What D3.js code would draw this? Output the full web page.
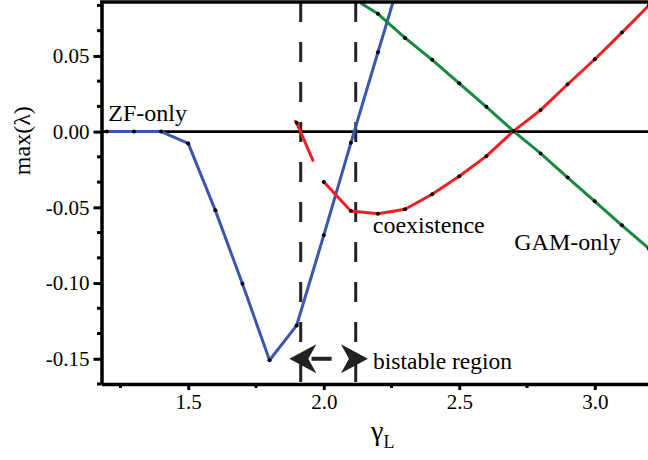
<!DOCTYPE html>
<html>
<head>
<meta charset="utf-8">
<script src="https://cdn.jsdelivr.net/npm/d3@7"></script>
<style>
  body { margin: 0; background: #fff; }
  text, tspan { font-family: "Liberation Serif", "Times New Roman", serif; }
</style>
</head>
<body>
<svg id="chart" width="648" height="460"></svg>
<script>
// gamma_L values and max(lambda) for each branch
var zfOnly = [[1.2, 0], [1.3, 0], [1.4, 0], [1.5, -0.0078], [1.6, -0.052], [1.7, -0.1005],
              [1.8, -0.151], [1.9, -0.128], [2.0, -0.0685], [2.1, -0.0074], [2.2, 0.0524], [2.3, 0.112]]
var coexA = [[1.895, 0.0068], [1.9, 0.0058], [1.96, -0.019]]
var coexB = [[2.0, -0.0332], [2.1, -0.0524], [2.2, -0.0542], [2.3, -0.0513], [2.4, -0.0414],
             [2.5, -0.0295], [2.6, -0.0162], [2.7, 0.0003], [2.8, 0.0142], [2.9, 0.0313],
             [3.0, 0.0478], [3.1, 0.0654], [3.2, 0.0835]]
var gamOnly = [[2.14, 0.0845], [2.2, 0.0778], [2.3, 0.0619], [2.4, 0.0474], [2.5, 0.0319],
               [2.6, 0.0164], [2.7, 0.0003], [2.8, -0.0144], [2.9, -0.0303], [3.0, -0.046],
               [3.1, -0.0619], [3.2, -0.0773]]
var bistable = [1.915, 2.118]
var xMajor = [1.5, 2.0, 2.5, 3.0]
var xMinor = [1.25, 1.75, 2.25, 2.75]
var yMajor = [-0.15, -0.10, -0.05, 0, 0.05]
var yMinor = d3.range(-10, 6).filter(k => k % 3 !== 0).map(k => k / 60)

var dims = { width: 648, height: 460, left: 101.5, right: 649, top: 2, bottom: 384 }
var serif = '"Liberation Serif", "Times New Roman", serif'

var svg = d3.select("#chart")

var xScale = d3.scaleLinear().domain([1.18, 3.2]).range([dims.left, dims.right])
var yScale = d3.scaleLinear().domain([-1 / 6, 0.0856]).range([dims.bottom, dims.top])

svg.append("clipPath").attr("id", "plotclip")
   .append("rect")
   .attr("x", dims.left).attr("y", dims.top)
   .attr("width", dims.width - dims.left).attr("height", dims.bottom - dims.top)

var plot = svg.append("g").attr("clip-path", "url(#plotclip)")

// zero line
plot.append("line")
    .attr("x1", dims.left).attr("x2", dims.width)
    .attr("y1", yScale(0)).attr("y2", yScale(0))
    .attr("stroke", "#000").attr("stroke-width", 2.6)

// bistable boundaries
plot.selectAll(".bistable")
    .data(bistable)
    .enter()
    .append("line")
    .attr("class", "bistable")
    .attr("x1", d => xScale(d)).attr("x2", d => xScale(d))
    .attr("y1", dims.top).attr("y2", dims.bottom)
    .attr("stroke", "#222").attr("stroke-width", 3)
    .attr("stroke-dasharray", "20,20")

var line = d3.line().x(d => xScale(d[0])).y(d => yScale(d[1]))

var series = [
    { data: zfOnly, color: "#3a57ad" },
    { data: coexA, color: "#ee2024" },
    { data: coexB, color: "#ee2024" },
    { data: gamOnly, color: "#168a3e" }
]

series.forEach(function(s) {
    plot.append("path")
        .datum(s.data)
        .attr("d", line)
        .attr("fill", "none")
        .attr("stroke", s.color)
        .attr("stroke-width", 3)
        .attr("stroke-linejoin", "round")
        .attr("stroke-linecap", "round")
})

var isGrid = d => Math.abs(d[0] * 10 - Math.round(d[0] * 10)) < 1e-6
series.forEach(function(s) {
    plot.append("g")
        .selectAll("circle")
        .data(s.data.filter(isGrid))
        .enter()
        .append("circle")
        .attr("cx", d => xScale(d[0]))
        .attr("cy", d => yScale(d[1]))
        .attr("r", 2)
        .attr("fill", "#000")
})

// frame top
svg.append("line")
   .attr("x1", dims.left - 1.5).attr("x2", dims.width)
   .attr("y1", dims.top).attr("y2", dims.top)
   .attr("stroke", "#000").attr("stroke-width", 3.5)

// axes
var yAxis = svg.append("g")
   .attr("transform", `translate(${dims.left},0)`)
   .call(d3.axisLeft(yScale).tickValues(yMajor).tickSize(8).tickPadding(4).tickSizeOuter(0)
         .tickFormat(d => (d < 0 ? "-" : "") + d3.format(".2f")(Math.abs(d))))
   .attr("font-family", serif).attr("font-size", 21)
yAxis.append("g").selectAll("line")
   .data(yMinor)
   .enter()
   .append("line")
   .attr("x1", 0).attr("x2", -4.5)
   .attr("y1", d => yScale(d)).attr("y2", d => yScale(d))
   .attr("stroke", "#000").attr("stroke-width", 3)

var xAxis = svg.append("g")
   .attr("transform", `translate(0,${dims.bottom})`)
   .call(d3.axisBottom(xScale).tickValues(xMajor).tickSize(6).tickPadding(4).tickSizeOuter(0)
         .tickFormat(d3.format(".1f")))
   .attr("font-family", serif).attr("font-size", 21)
xAxis.append("g").selectAll("line")
   .data(xMinor)
   .enter()
   .append("line")
   .attr("y1", 0).attr("y2", 4)
   .attr("x1", d => xScale(d)).attr("x2", d => xScale(d))
   .attr("stroke", "#000").attr("stroke-width", 3)

svg.selectAll(".domain").attr("stroke-width", 3.5).attr("stroke", "#000")
svg.selectAll(".tick line").attr("stroke-width", 3).attr("stroke", "#000")
svg.selectAll(".tick text").attr("fill", "#000")

// axis titles
svg.append("text")
   .attr("transform", `translate(30,${yScale(-0.006)}) rotate(-90)`)
   .attr("text-anchor", "middle")
   .attr("font-family", serif)
   .attr("font-size", 24)
   .text("max(λ)")

var xt = svg.append("text")
   .attr("x", 371).attr("y", 440)
   .attr("font-family", serif)
   .attr("font-size", 28)
xt.append("tspan").text("γ")
xt.append("tspan").attr("dy", 8).attr("font-size", 18).text("L")

// region labels
var labels = [
    { t: "ZF-only", x: 1.205, y: 0.0072 },
    { t: "coexistence", x: 2.181, y: -0.0669 },
    { t: "GAM-only", x: 2.703, y: -0.0782 },
    { t: "bistable region", x: 2.182, y: -0.1567 }
]
svg.selectAll(".lbl")
   .data(labels)
   .enter()
   .append("text")
   .attr("class", "lbl")
   .attr("x", d => xScale(d.x))
   .attr("y", d => yScale(d.y))
   .attr("font-family", serif)
   .attr("font-size", d => d.t === "bistable region" ? 23.5 : 24)
   .text(d => d.t)

// bistable arrows
function head(tx, ty, dir) {
    var L = 27, h = 14.5, n = 8
    return `M${tx},${ty} L${tx - dir * L},${ty - h} L${tx - dir * (L - n)},${ty} L${tx - dir * L},${ty + h} Z`
}
var ay = yScale(-0.15)
svg.append("line")
   .attr("x1", xScale(1.955)).attr("x2", xScale(2.029))
   .attr("y1", ay).attr("y2", ay)
   .attr("stroke", "#222").attr("stroke-width", 4)
svg.append("path").attr("d", head(xScale(1.873), ay, -1)).attr("fill", "#222")
svg.append("path").attr("d", head(xScale(2.163), ay, 1)).attr("fill", "#222")
</script>
</body>
</html>
